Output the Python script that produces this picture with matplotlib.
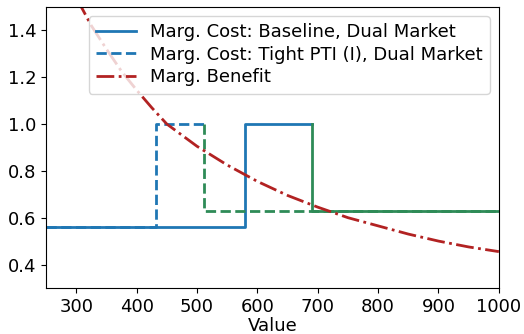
import matplotlib
matplotlib.use("Agg")
import matplotlib.pyplot as plt
import numpy as np

# marginal cost schedules (value -> cost), first market part then second market part
base_x1 = [250, 580, 580, 690]
base_y1 = [0.56, 0.56, 1.0, 1.0]
base_x2 = [690, 690, 1000]
base_y2 = [1.0, 0.63, 0.63]

tight_x1 = [250, 432, 432, 512]
tight_y1 = [0.56, 0.56, 1.0, 1.0]
tight_x2 = [512, 512, 1000]
tight_y2 = [1.0, 0.63, 0.63]

# marginal benefit curve
benefit_x = [250, 275, 300, 325, 350, 375, 400, 425, 450, 500, 550, 600, 650, 700,
             750, 800, 850, 900, 950, 1000]
benefit_y = [1.82, 1.66, 1.54, 1.42, 1.32, 1.225, 1.145, 1.07, 1.00, 0.905, 0.825,
             0.755, 0.695, 0.645, 0.60, 0.565, 0.53, 0.50, 0.475, 0.455]

BLUE = "#1f77b4"
GREEN = "#2e8b57"
RED = "#b22222"

plt.rcParams["font.size"] = 13

fig, ax = plt.subplots(figsize=(5.24, 3.34), dpi=100)

ax.plot(base_x1, base_y1, color=BLUE, lw=2, label="Marg. Cost: Baseline, Dual Market")
ax.plot(base_x2, base_y2, color=GREEN, lw=2)
ax.plot(tight_x1, tight_y1, color=BLUE, lw=2, ls="--",
        label="Marg. Cost: Tight PTI (I), Dual Market")
ax.plot(tight_x2, tight_y2, color=GREEN, lw=2, ls="--")
ax.plot(benefit_x, benefit_y, color=RED, lw=2, ls="-.", label="Marg. Benefit")

ax.set_xlim(250, 1000)
ax.set_ylim(0.3, 1.5)
ax.set_xticks(np.arange(300, 1001, 100))
ax.set_yticks([0.4, 0.6, 0.8, 1.0, 1.2, 1.4])
ax.set_xlabel("Value", labelpad=1)
ax.legend(loc="upper right", fontsize=13, handlelength=2.2,
          borderpad=0.4, labelspacing=0.25)

fig.subplots_adjust(left=0.088, right=0.952, top=0.979, bottom=0.138)
fig.savefig("out.png", dpi=100)
